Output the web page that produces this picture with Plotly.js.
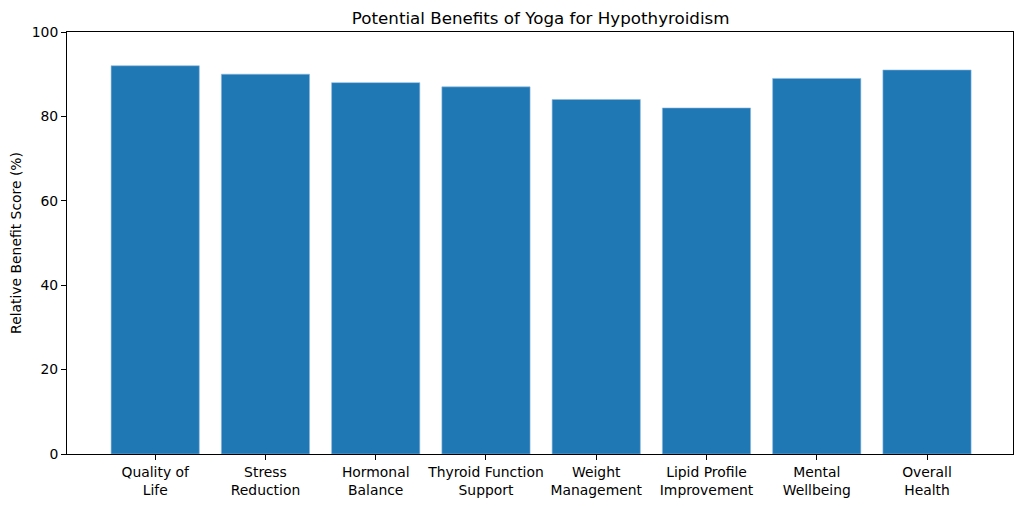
<!DOCTYPE html>
<html>
<head>
<meta charset="utf-8">
<script src="https://cdn.plot.ly/plotly-3.0.1.min.js"></script>
<style>html,body{margin:0;padding:0;background:#fff;}#chart{width:1024px;height:506px;}</style>
</head>
<body>
<div id="chart"></div>
<script>
const categories = ["Quality of<br>Life", "Stress<br>Reduction", "Hormonal<br>Balance", "Thyroid Function<br>Support", "Weight<br>Management", "Lipid Profile<br>Improvement", "Mental<br>Wellbeing", "Overall<br>Health"];
const scores = [92, 90, 88, 87, 84, 82, 89, 91];
const yTicks = [0, 20, 40, 60, 80, 100];

const font = "DejaVu Sans, sans-serif";
const trace = {
  type: "bar",
  x: categories.map((_, i) => i),
  y: scores,
  width: 0.8,
  marker: {color: "#1f77b4", line: {color: "#8fbbe0", width: 0.6}},
  hoverinfo: "skip"
};
const layout = {
  width: 1024, height: 506,
  margin: {l: 67, r: 11, t: 32, b: 52},
  paper_bgcolor: "#fff", plot_bgcolor: "#fff",
  font: {family: font, color: "#000", size: 13.9},
  title: {text: "Potential Benefits of Yoga for Hypothyroidism", font: {family: font, size: 16.7, color: "#000"}, x: 0.528, xanchor: "center", y: 0.965, yanchor: "middle"},
  showlegend: false,
  bargap: 0.2,
  xaxis: {
    range: [-0.8, 7.78],
    tickmode: "array", tickvals: categories.map((_, i) => i), ticktext: categories,
    ticks: "outside", ticklen: 5, tickwidth: 1, tickcolor: "#000",
    showline: true, linecolor: "#000", linewidth: 1, mirror: true,
    showgrid: false, zeroline: false,
    tickfont: {family: font, size: 13.9, color: "#000"}
  },
  yaxis: {
    range: [0, 100],
    tickmode: "array", tickvals: yTicks,
    ticks: "outside", ticklen: 5, tickwidth: 1, tickcolor: "#000",
    showline: true, linecolor: "#000", linewidth: 1, mirror: true,
    showgrid: false, zeroline: false,
    tickfont: {family: font, size: 13.9, color: "#000"},
    title: {text: "Relative Benefit Score (%)", font: {family: font, size: 13.9, color: "#000"}, standoff: 6}
  }
};
Plotly.newPlot("chart", [trace], layout, {displayModeBar: false, staticPlot: true});
</script>
</body>
</html>
